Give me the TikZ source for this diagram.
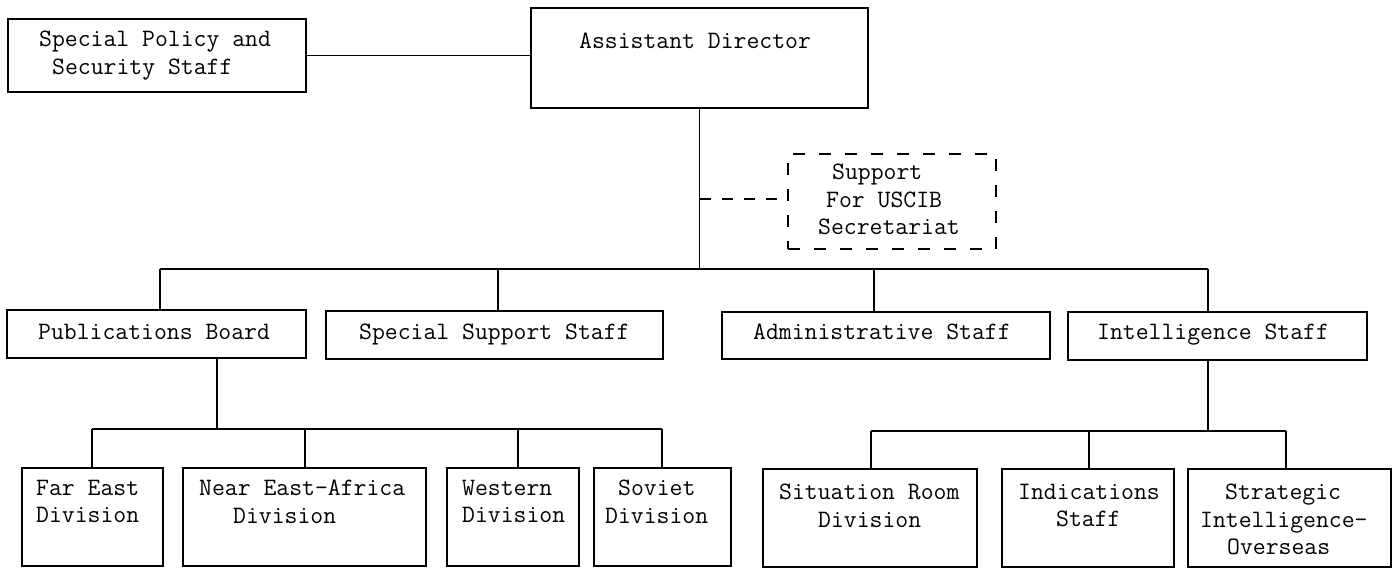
\documentclass[tikz,border=0pt]{standalone}
\usetikzlibrary{fit}
\begin{document}
\begin{tikzpicture}[x=1pt,y=-1pt,
  box/.style={draw, line width=1.6pt, inner sep=0pt},
  dbox/.style={draw, line width=1.6pt, inner sep=0pt, dash pattern=on 12pt off 14pt},
  txt/.style={anchor=north west, inner sep=0pt, align=left, font=\fontsize{25}{27.5}\selectfont\ttfamily},
  conn/.style={line width=1.6pt},
  dconn/.style={line width=1.6pt, dash pattern=on 11pt off 11pt}]
\useasboundingbox (0,0) rectangle (1395,569);

% boxes
\node[box, fit={(8,19) (306,92)}] (sp) {};
\node[box, fit={(531,8) (868,108)}] (ad) {};
\node[dbox, fit={(788,154) (996,249)}] (sup) {};
\node[box, fit={(7,310) (306,358)}] (pb) {};
\node[box, fit={(326,311) (663,359)}] (ss) {};
\node[box, fit={(722,312) (1050,359)}] (as) {};
\node[box, fit={(1068,312) (1367,360)}] (is) {};
\node[box, fit={(22,468) (163,566)}] (fe) {};
\node[box, fit={(183,468) (426,566)}] (ne) {};
\node[box, fit={(447,468) (579,566)}] (we) {};
\node[box, fit={(594,468) (731,566)}] (so) {};
\node[box, fit={(763,469) (977,567)}] (sr) {};
\node[box, fit={(1002,469) (1174,567)}] (ind) {};
\node[box, fit={(1188,469) (1391,567)}] (str) {};

% texts
\node[txt] (sp-t) at (39,31) {Special Policy and\\\hspace*{13pt}Security Staff};
\node[txt] (ad-t) at (579,33) {Assistant Director};
\node[txt] (sup-t) at (818,164) {\hspace*{14pt}Support\\\hspace*{8pt}For USCIB\\Secretariat};
\node[txt] (pb-t) at (38,324) {Publications Board};
\node[txt] (ss-t) at (359,324) {Special Support Staff};
\node[txt] (as-t) at (753,324) {Administrative Staff};
\node[txt] (is-t) at (1097,324) {Intelligence Staff};
\node[txt] (fe-t) at (36,480) {Far East\\Division};
\node[txt] (ne-t) at (199,480) {Near East-Africa\\\hspace*{34pt}Division};
\node[txt] (we-t) at (462,480) {Western\\Division};
\node[txt] (so-t) at (605,480) {\hspace*{13pt}Soviet\\Division};
\node[txt] (sr-t) at (779,484) {Situation Room\\\hspace*{39pt}Division};
\node[txt] (ind-t) at (1018,484) {Indications\\\hspace*{38pt}Staff};
\node[txt] (str-t) at (1200,484) {\hspace*{25pt}Strategic\\Intelligence-\\\hspace*{27pt}Overseas};

% junction coordinates
\coordinate (brL) at (160,269);
\coordinate (brR) at (1208,269);
\coordinate (brS) at (498,269);
\coordinate (brA) at (874,269);
\coordinate (dj) at (700,199);
\coordinate (s1L) at (92,429);
\coordinate (s1R) at (662,429);
\coordinate (s1J) at (217,429);
\coordinate (s1N) at (305,429);
\coordinate (s1W) at (518,429);
\coordinate (s2L) at (871,431);
\coordinate (s2R) at (1286,431);
\coordinate (s2J) at (1208,431);
\coordinate (s2I) at (1089,431);

% connectors
\draw[conn] (sp.east) -- (sp.east -| ad.west);
\draw[conn] (ad.south) -- (ad.south |- brL);
\draw[dconn] (dj) -- (dj -| sup.west);
\draw[conn] (brL) -- (brR);
\draw[conn] (brL) -- (brL |- pb.north);
\draw[conn] (brS) -- (brS |- ss.north);
\draw[conn] (brA) -- (brA |- as.north);
\draw[conn] (brR) -- (brR |- is.north);

\draw[conn] (s1J |- pb.south) -- (s1J);
\draw[conn] (s1L) -- (s1R);
\draw[conn] (s1L) -- (s1L |- fe.north);
\draw[conn] (s1N) -- (s1N |- ne.north);
\draw[conn] (s1W) -- (s1W |- we.north);
\draw[conn] (s1R) -- (s1R |- so.north);

\draw[conn] (s2J |- is.south) -- (s2J);
\draw[conn] (s2L) -- (s2R);
\draw[conn] (s2L) -- (s2L |- sr.north);
\draw[conn] (s2I) -- (s2I |- ind.north);
\draw[conn] (s2R) -- (s2R |- str.north);
\end{tikzpicture}
\end{document}
